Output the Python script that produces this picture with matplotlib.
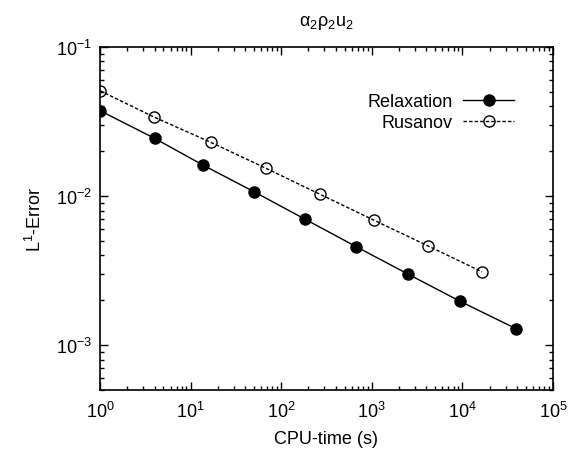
import numpy as np
import matplotlib
matplotlib.use("Agg")
import matplotlib.pyplot as plt
from matplotlib.ticker import LogLocator

plt.rcParams['font.family'] = ['Liberation Sans', 'DejaVu Sans']
plt.rcParams['mathtext.fontset'] = 'custom'
plt.rcParams['mathtext.rm'] = 'Liberation Sans'
plt.rcParams['mathtext.it'] = 'Liberation Sans'
plt.rcParams['mathtext.bf'] = 'Liberation Sans:bold'

### data ###
relax_time = [1.0, 4.0, 13.8, 50.0, 182.0, 676.0, 2500.0, 9400.0, 39000.0]
relax_err = [0.0374, 0.0244, 0.0161, 0.0107, 0.00701, 0.00457, 0.00300, 0.00197, 0.00129]

rus_time = [1.0, 3.9, 16.8, 68.0, 270.0, 1050.0, 4200.0, 16500.0]
rus_err = [0.0509, 0.0340, 0.0229, 0.01535, 0.01026, 0.00690, 0.00462, 0.00310]

fig = plt.figure(figsize=(5.83, 4.56), dpi=100)
ax = fig.add_axes([100/583, 1-391/456, 453/583, 343/456])

ax.plot(relax_time, relax_err, color='black', lw=1.0, marker='o', ms=8,
        markerfacecolor='black', label='Relaxation')
ax.plot(rus_time, rus_err, color='black', lw=1.0, ls=(0, (2.5, 1.5)), marker='o', ms=8,
        markerfacecolor='none', markeredgewidth=1.0, label='Rusanov')

ax.set_xscale('log')
ax.set_yscale('log')
ax.set_xlim(1, 1e5)
ax.set_ylim(5e-4, 1e-1)
ax.xaxis.set_minor_locator(LogLocator(base=10, subs=np.arange(2, 10)))
ax.yaxis.set_minor_locator(LogLocator(base=10, subs=np.arange(2, 10)))
ax.tick_params(which='both', direction='in', top=True, right=True, labelsize=13)
ax.tick_params(which='major', length=6, width=1)
ax.tick_params(which='minor', length=3, width=1)
ax.tick_params(axis='x', pad=8)
ax.tick_params(axis='y', pad=6)
for s in ax.spines.values():
    s.set_linewidth(1.2)

ax.set_xlabel('CPU-time (s)', fontsize=13, labelpad=6)
ax.set_ylabel(r'L$^1$-Error', fontsize=13, labelpad=8)
ax.set_title(r'$\mathrm{\alpha_2\rho_2u_2}$', fontsize=13, pad=16)

ax.legend(loc='upper right', bbox_to_anchor=(0.914, 0.865), frameon=False,
          markerfirst=False, fontsize=13, handlelength=2.8, handletextpad=0.6,
          labelspacing=0.2, borderaxespad=0, borderpad=0)

plt.savefig('out.png', dpi=100)
